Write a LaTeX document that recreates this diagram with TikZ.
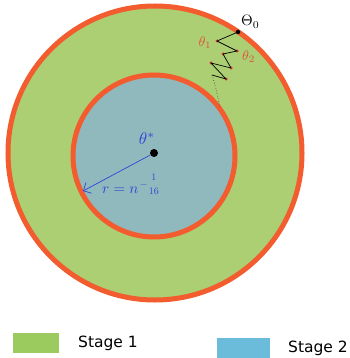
\documentclass[tikz,border=0pt]{standalone}
\usepackage{amsmath}
\usepackage{graphicx}
\usepackage{fontspec}
\setmainfont{DejaVu Sans}
\usetikzlibrary{arrows.meta}
\begin{document}
\begin{tikzpicture}[x=1pt,y=-1pt,
  ring/.style={draw=ringc,line width=5pt},
  zig/.style={draw=black,line width=0.7pt},
  rdot/.style={circle,fill=redc,inner sep=0pt,minimum size=3.5pt},
  lbl/.style={inner sep=0pt},
  leg/.style={inner sep=0pt,font=\fontsize{15.5}{16}\selectfont}]
\definecolor{ringc}{HTML}{F25C2E}
\definecolor{greenc}{HTML}{ABCF72}
\definecolor{innerc}{HTML}{8FB9BD}
\definecolor{leggreen}{HTML}{9BCB5F}
\definecolor{legblue}{HTML}{6ABCDA}
\definecolor{redc}{HTML}{E0533A}
\definecolor{bluec}{HTML}{2F45D8}
\useasboundingbox (0,0) rectangle (349,358);
\fill[white] (0,0) rectangle (349,358);
% circles
\draw[ring,fill=greenc] (155,153) circle[radius=147];
\draw[ring,fill=innerc] (154,156) circle[radius=81];
% centre
\node[circle,fill=black,inner sep=0pt,minimum size=8pt] (c) at (154,153) {};
\node[lbl,text=bluec] (ts) at (147,139) {\scalebox{1.7}{$\theta^{*}$}};
\coordinate (rend) at (83,191);
\draw[bluec,line width=0.7pt,-{Straight Barb[length=6pt]}] (c) -- (rend);
\node[lbl,text=bluec,anchor=west] (rl) at (102,190) {\scalebox{1.5}{$r = n$}};
\node[lbl,text=bluec,anchor=west] (rx) at ([xshift=1pt,yshift=6pt]rl.east) {$-\genfrac{}{}{0pt}{0}{1}{16}$};
% zigzag
\node[circle,fill=black,inner sep=0pt,minimum size=4.5pt] (p0) at (238,32) {};
\node[rdot] (p1) at (217,41) {};
\node[rdot] (p2) at (237,51) {};
\node[rdot] (p3) at (223,54) {};
\node[rdot] (p4) at (231,68) {};
\node[rdot] (p5) at (211,63) {};
\node[rdot] (p6) at (226,79) {};
\node[inner sep=0pt,minimum size=1pt] (p7) at (212,75) {};
\coordinate (pend) at (220,108);
\draw[zig] (p0.center) -- (p1.center) -- (p2.center) -- (p3.center) -- (p4.center) -- (p5.center) -- (p6.center) -- (p7.center);
\draw[black!70,dotted,line width=0.7pt] (p7.center) .. controls (216,88) .. (pend);
\node[lbl,anchor=west] (t0) at (241,22) {\scalebox{1.5}{$\Theta_{0}$}};
\node[lbl,text=redc] (t1) at (205,43) {\scalebox{1.4}{$\theta_{1}$}};
\node[lbl,text=redc,anchor=west] (t2) at (242,57) {\scalebox{1.4}{$\theta_{2}$}};
% legend
\fill[leggreen] (13,333) rectangle (59,353);
\node[leg,anchor=west] (s1) at (78,343) {Stage 1};
\fill[legblue] (217,338) rectangle (270,358);
\node[leg,anchor=west] (s2) at (288,348) {Stage 2};
\end{tikzpicture}
\end{document}
